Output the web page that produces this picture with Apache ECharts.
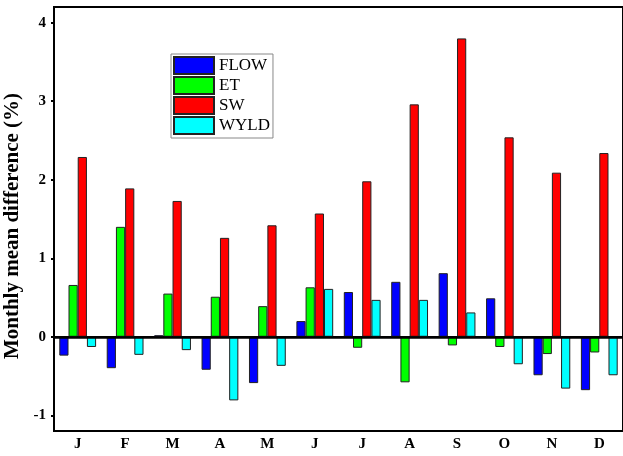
<!DOCTYPE html>
<html>
<head>
<meta charset="utf-8">
<script src="https://cdn.jsdelivr.net/npm/echarts@6/dist/echarts.min.js"></script>
<style>html,body{margin:0;padding:0;background:#fff}#c{width:623px;height:456px}</style>
</head>
<body>
<div id="c"></div>
<script>
var months = ['J','F','M','A','M','J','J','A','S','O','N','D'];
var flow = [-0.24,-0.40,0.02,-0.42,-0.59,0.20,0.57,0.70,0.81,0.49,-0.49,-0.68];
var et   = [0.66,1.40,0.55,0.51,0.39,0.63,-0.14,-0.58,-0.11,-0.13,-0.22,-0.20];
var sw   = [2.29,1.89,1.73,1.26,1.42,1.57,1.98,2.96,3.80,2.54,2.09,2.34];
var wyld = [-0.13,-0.23,-0.17,-0.81,-0.37,0.61,0.47,0.47,0.31,-0.35,-0.66,-0.49];
var yTicks = [-1,0,1,2,3,4];

var serif = 'Liberation Serif, Times New Roman, serif';
function bar(name, data, color, extra){
  var s = {name:name, type:'bar', data:data, barWidth:9.2, barGap:'0%',
    itemStyle:{color:color, borderColor:'#222', borderWidth:1}};
  if (extra) for (var k in extra) s[k]=extra[k];
  return s;
}
var chart = echarts.init(document.getElementById('c'));
chart.setOption({
  animation:false,
  backgroundColor:'#fff',
  grid:{left:54, top:7, width:569, bottom:25, containLabel:false, outerBoundsMode:'none',
    show:true, borderColor:'#000', borderWidth:2, backgroundColor:'transparent'},
  legend:{orient:'vertical', left:171, top:54, itemWidth:40, itemHeight:17, itemGap:1,
    borderColor:'#888', borderWidth:1, padding:[2,3,3,2], icon:'rect',
    textStyle:{fontFamily:serif, fontSize:17, lineHeight:17, color:'#000'},
    data:['FLOW','ET','SW','WYLD']},
  xAxis:{type:'category', data:months,
    axisLine:{lineStyle:{color:'#000', width:2}},
    axisTick:{inside:true, length:3, alignWithLabel:true, lineStyle:{color:'#000', width:2}},
    axisLabel:{fontFamily:serif, fontWeight:'bold', fontSize:15, color:'#000', margin:6}},
  yAxis:{type:'value', min:-1.2, max:4.2,
    name:'Monthly mean difference (%)', nameLocation:'middle', nameRotate:90, nameGap:26,
    nameTextStyle:{fontFamily:serif, fontWeight:'bold', fontSize:21, color:'#000', padding:[0,14,0,0]},
    axisLine:{show:true, lineStyle:{color:'#000', width:2}},
    axisTick:{show:true, length:3, customValues:yTicks, lineStyle:{color:'#000', width:2}},
    axisLabel:{fontFamily:serif, fontWeight:'bold', fontSize:15, color:'#000', margin:8, customValues:yTicks},
    splitLine:{show:false}},
  series:[
    bar('FLOW', flow, '#0000ff'),
    bar('ET', et, '#00ff00'),
    bar('SW', sw, '#ff0000'),
    bar('WYLD', wyld, '#00ffff', {markLine:{silent:true, symbol:'none', label:{show:false},
      lineStyle:{color:'#000', width:2.5, type:'solid'}, data:[{yAxis:0}]}})
  ]
});
</script>
</body>
</html>
